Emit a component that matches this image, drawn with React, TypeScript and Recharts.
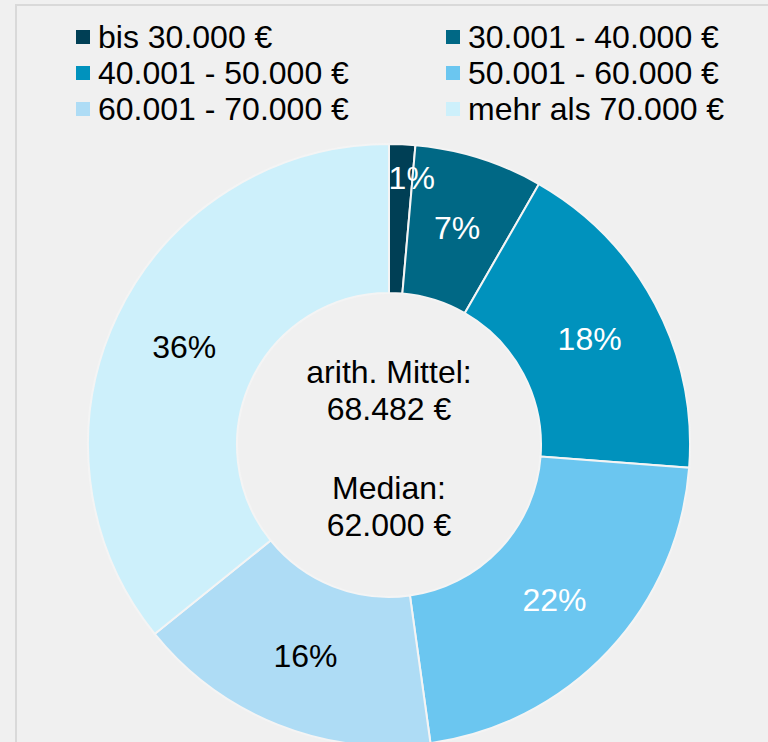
import { PieChart, Pie, Cell } from 'recharts';

// ── Data ──────────────────────────────────────────────────────────────────────
const CATEGORIES = [
  'bis 30.000 €',
  '30.001 - 40.000 €',
  '40.001 - 50.000 €',
  '50.001 - 60.000 €',
  '60.001 - 70.000 €',
  'mehr als 70.000 €',
];
const SHARES = [1.4, 6.9, 17.9, 21.6, 16.4, 35.8];
const CENTER_LINES = ['arith. Mittel:', '68.482 €', 'Median:', '62.000 €'];

// ── Constants ─────────────────────────────────────────────────────────────────
const COLORS = ['#003f55', '#006885', '#0092bd', '#6bc6f0', '#aedcf5', '#cdf0fb'];
const LABEL_FILL = ['#ffffff', '#ffffff', '#ffffff', '#ffffff', '#000000', '#000000'];
const BG = '#f0f0f0';
const FRAME = '#d9d9d9';
const FONT = '"Liberation Sans", Arial, sans-serif';
const RAD = Math.PI / 180;
const CX = 389;
const CY = 445;

const data = CATEGORIES.map((name, i) => ({ name, value: SHARES[i] }));

// ── Slice labels ─────────────────────────────────────────────────────────────
// tiny slices get pushed outward and nudged right, like the original
function SliceLabel(props: any) {
  const { cx, cy, midAngle, value, index } = props;
  const tiny = value < 3;
  const r = tiny ? 267 : 227;
  const x = cx + r * Math.cos(-midAngle * RAD) + (tiny ? 11 : 0);
  const y = cy + r * Math.sin(-midAngle * RAD);
  return (
    <text
      x={x}
      y={y}
      fill={LABEL_FILL[index]}
      fontSize={32}
      fontFamily={FONT}
      textAnchor="middle"
      dominantBaseline="central"
    >
      {Math.round(value)}%
    </text>
  );
}

// ── Center text (overlay) ────────────────────────────────────────────────────
function CenterText() {
  const offsets = [-73, -36, 43, 80];
  return (
    <svg width={768} height={742} style={{ position: 'absolute', left: 0, top: 0, pointerEvents: 'none' }}>
      {CENTER_LINES.map((t, i) => (
        <text
          key={t}
          x={CX}
          y={CY + offsets[i]}
          fill="#000"
          fontSize={32}
          fontFamily={FONT}
          textAnchor="middle"
          dominantBaseline="central"
        >
          {t}
        </text>
      ))}
    </svg>
  );
}

// ── Legend ────────────────────────────────────────────────────────────────────
function LegendBlock() {
  const colX = [76, 446];
  const rowY = [37, 73, 109];
  return (
    <>
      {CATEGORIES.map((c, i) => {
        const left = colX[i % 2];
        const top = rowY[Math.floor(i / 2)];
        return (
          <div key={c} style={{ position: 'absolute', left, top: top - 20, height: 40, display: 'flex', alignItems: 'center' }}>
            <div style={{ width: 14, height: 14, background: COLORS[i], marginRight: 8 }} />
            <span style={{ fontFamily: FONT, fontSize: 32, color: '#000', whiteSpace: 'nowrap' }}>{c}</span>
          </div>
        );
      })}
    </>
  );
}

// ── Component ─────────────────────────────────────────────────────────────────
export default function App() {
  return (
    <div style={{ position: 'absolute', left: 0, top: 0, width: 768, height: 742, background: BG, overflow: 'hidden' }}>
      <div
        style={{
          position: 'absolute',
          left: 15,
          top: 4,
          width: 800,
          height: 800,
          borderLeft: `2px solid ${FRAME}`,
          borderTop: `2px solid ${FRAME}`,
        }}
      />
      <LegendBlock />
      <div style={{ position: 'absolute', left: 0, top: 0 }}>
        <PieChart width={768} height={742} margin={{ top: 0, right: 0, bottom: 0, left: 0 }}>
          <Pie
            data={data}
            dataKey="value"
            nameKey="name"
            cx={CX}
            cy={CY}
            innerRadius={152}
            outerRadius={301}
            startAngle={90}
            endAngle={-270}
            stroke="#f4f4f4"
            strokeWidth={2}
            label={SliceLabel}
            labelLine={false}
            isAnimationActive={false}
          >
            {data.map((d, i) => (
              <Cell key={d.name} fill={COLORS[i]} />
            ))}
          </Pie>
        </PieChart>
      </div>
      <CenterText />
    </div>
  );
}
